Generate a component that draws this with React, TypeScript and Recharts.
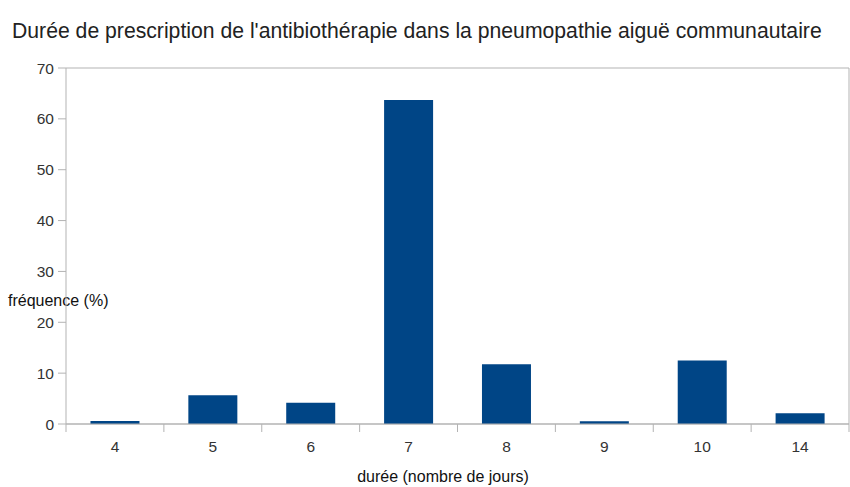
import React from "react";
import { BarChart, Bar, XAxis, YAxis, CartesianGrid } from "recharts";

const categories = ["4", "5", "6", "7", "8", "9", "10", "14"];
const frequences = [0.6, 5.65, 4.2, 63.7, 11.75, 0.55, 12.5, 2.1];
const yTicks = [0, 10, 20, 30, 40, 50, 60, 70];

const data = categories.map((c, i) => ({ duree: c, freq: frequences[i] }));

const W = 850;
const H = 487;
const LEFT = 66;
const RIGHT = 1;
const TOP = 68;
const BOTTOM = 63;
const PLOT_W = W - LEFT - RIGHT;
const BAND = PLOT_W / categories.length;
const GRID = "#b3b3b3";
const TEXT = "#333333";
const FONT = "'Liberation Sans', Arial, sans-serif";

const XTick = (props: any) => {
  const { x, y, payload, index } = props;
  const left = x - BAND / 2;
  return (
    <g>
      <line x1={left} x2={left} y1={y - 8} y2={y} stroke={GRID} strokeWidth={1} />
      {index === categories.length - 1 && (
        <line x1={left + BAND} x2={left + BAND} y1={y - 8} y2={y} stroke={GRID} strokeWidth={1} />
      )}
      <text x={x} y={y + 20} textAnchor="middle" fill={TEXT} fontSize={15.5} fontFamily={FONT}>
        {payload.value}
      </text>
    </g>
  );
};

export default function App() {
  return (
    <div style={{ position: "absolute", left: 0, top: 0, width: W, height: H, background: "#fff" }}>
      <BarChart
        width={W}
        height={H}
        data={data}
        margin={{ top: TOP, right: 0, bottom: 0, left: 0 }}
        barCategoryGap="25%"
      >
        <text x={12} y={38} fill="#222" fontSize={21.2} fontFamily={FONT}>
          Durée de prescription de l'antibiothérapie dans la pneumopathie aiguë communautaire
        </text>
        <CartesianGrid vertical={false} stroke={GRID} strokeWidth={1} />
        <XAxis
          dataKey="duree"
          height={BOTTOM}
          axisLine={{ stroke: GRID }}
          tickLine={false}
          tick={<XTick />}
          interval={0}
        />
        <YAxis
          yAxisId="left"
          width={LEFT}
          domain={[0, 70]}
          ticks={yTicks}
          interval={0}
          tickSize={8}
          tickMargin={4}
          axisLine={{ stroke: GRID }}
          tickLine={{ stroke: GRID }}
          tick={{ fill: TEXT, fontSize: 15.5, fontFamily: FONT }}
        />
        <YAxis
          yAxisId="right"
          orientation="right"
          width={RIGHT}
          domain={[0, 70]}
          ticks={yTicks}
          tick={false}
          tickLine={false}
          axisLine={{ stroke: GRID }}
        />
        <Bar yAxisId="left" dataKey="freq" fill="#004586" isAnimationActive={false} />
        <text x={8} y={306} fill="#111" fontSize={16} fontFamily={FONT}>
          fréquence (%)
        </text>
        <text x={443} y={482} textAnchor="middle" fill="#111" fontSize={16} fontFamily={FONT}>
          durée (nombre de jours)
        </text>
      </BarChart>
    </div>
  );
}
